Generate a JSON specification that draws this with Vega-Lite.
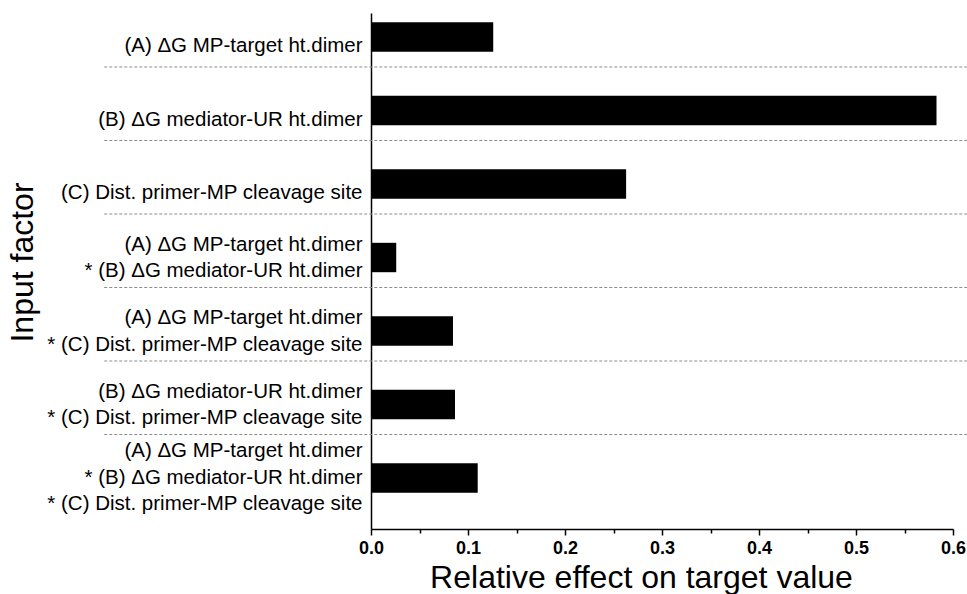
{
  "$schema": "https://vega.github.io/schema/vega-lite/v6.json",
  "autosize": "none",
  "width": 582,
  "height": 516,
  "padding": {"left": 371, "top": 13, "right": 14, "bottom": 65},
  "background": "white",
  "config": {
    "view": {"stroke": null},
    "font": "Liberation Sans"
  },
  "data": {
    "values": [
      {"factor": "(A) ΔG MP-target ht.dimer", "effect": 0.126},
      {"factor": "(B) ΔG mediator-UR ht.dimer", "effect": 0.583},
      {"factor": "(C) Dist. primer-MP cleavage site", "effect": 0.263},
      {"factor": "(A) ΔG MP-target ht.dimer|* (B) ΔG mediator-UR ht.dimer", "effect": 0.026},
      {"factor": "(A) ΔG MP-target ht.dimer|* (C) Dist. primer-MP cleavage site", "effect": 0.0845},
      {"factor": "(B) ΔG mediator-UR ht.dimer|* (C) Dist. primer-MP cleavage site", "effect": 0.0866},
      {"factor": "(A) ΔG MP-target ht.dimer|* (B) ΔG mediator-UR ht.dimer|* (C) Dist. primer-MP cleavage site", "effect": 0.11}
    ]
  },
  "layer": [
    {
      "transform": [{"filter": "indexof(datum.factor, '* (B) ΔG mediator-UR ht.dimer|* (C)') < 0"}],
      "mark": {"type": "rule", "color": "#8c8c8c", "strokeDash": [3, 2], "strokeWidth": 1},
      "encoding": {
        "y": {"field": "factor", "type": "nominal", "sort": null, "bandPosition": 1.52},
        "x": {"datum": -0.275},
        "x2": {"datum": 0.62}
      }
    },
    {
      "mark": {"type": "bar", "color": "black"},
      "encoding": {
        "y": {
          "field": "factor",
          "type": "nominal",
          "sort": null,
          "scale": {"paddingInner": 0.6, "paddingOuter": 0.31, "align": 0.204},
          "axis": {
            "title": "Input factor",
            "titleFontSize": 32,
            "titleFontWeight": "normal",
            "titleColor": "black",
            "titleX": -349,
            "titleY": 249,
            "titleAngle": -90,
            "titleAlign": "center",
            "titleBaseline": "middle",
            "labelExpr": "split(datum.value, '|')",
            "labelFontSize": 20.5,
            "labelColor": "black",
            "labelAlign": "right",
            "labelBaseline": "middle",
            "labelLineHeight": 26.5,
            "labelPadding": 9,
            "labelLimit": 500,
            "labelOffset": {"condition": [
              {"test": "indexof(datum.value, '|') < 0", "value": 9},
              {"test": "length(split(datum.value, '|')) == 3", "value": -27}
            ], "value": -13},
            "ticks": false,
            "domainColor": "black",
            "domainWidth": 1.5
          }
        },
        "x": {
          "field": "effect",
          "type": "quantitative",
          "scale": {"domain": [0, 0.6], "nice": false},
          "axis": {
            "title": "Relative effect on target value",
            "titleFontSize": 32,
            "titleFontWeight": "normal",
            "titleColor": "black",
            "titlePadding": 5,
            "titleX": 270,
            "values": [0, 0.025, 0.05, 0.075, 0.1, 0.125, 0.15, 0.175, 0.2, 0.225, 0.25, 0.275, 0.3, 0.325, 0.35, 0.375, 0.4, 0.425, 0.45, 0.475, 0.5, 0.525, 0.55, 0.575, 0.6],
            "labelExpr": "abs(datum.value*10 - round(datum.value*10)) < 0.001 ? format(datum.value, '.1f') : ''",
            "labelFontSize": 18,
            "labelFontWeight": "bold",
            "labelColor": "black",
            "labelPadding": 4,
            "labelFlush": false,
            "labelOverlap": false,
            "tickSize": {"condition": {"test": "abs(datum.value*10 - round(datum.value*10)) < 0.001", "value": 6}, "value": 4},
            "tickColor": "black",
            "tickWidth": 1.5,
            "domainColor": "black",
            "domainWidth": 1.5,
            "grid": false
          }
        }
      }
    }
  ]
}
